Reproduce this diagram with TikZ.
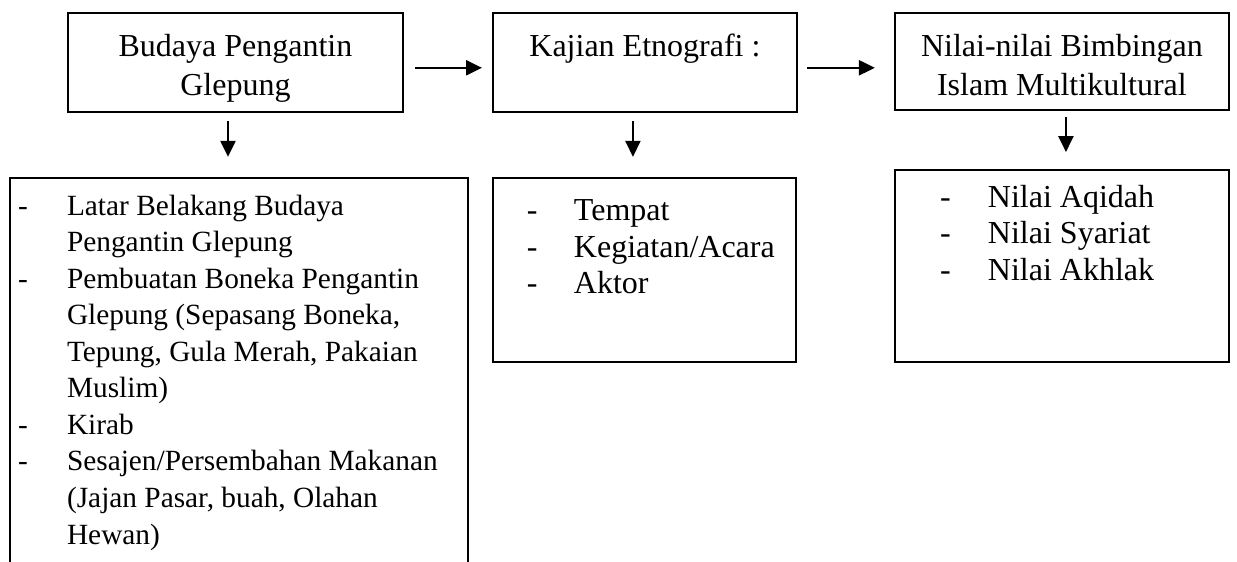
\documentclass[tikz,border=0pt]{standalone}
\usepackage{fontspec}
\setmainfont{Liberation Serif}
\usepackage{tikz}
\usetikzlibrary{positioning, arrows.meta}

\newcommand{\isikotak}[4][5.4pt]{\parbox[c][#3][t]{#2}{\vspace*{#1}#4}}

\begin{document}
\begin{tikzpicture}
        [
        x=0.375pt, y=-0.375pt,
        kotak/.style = {draw, line width=0.8pt, inner sep=0pt, outer sep=0pt, fill=white,
                        font=\fontsize{12}{13.7}\selectfont},
        panah/.style = {-{Triangle[length=6pt, width=5.6pt]}, line width=0.9pt}
        ]
    \useasboundingbox (0,0) rectangle (1237,561);
    \clip (0,0) rectangle (1237,561);

    \node[kotak, anchor=north west] (budaya) at (68,13)
        {\isikotak[6.9pt]{125.6pt}{37.1pt}{\centering\begin{tabular}{@{}c@{}}Budaya Pengantin\\[0.6pt]Glepung\end{tabular}\par}};
    \node[kotak, right=33.75pt of budaya.north east, anchor=north west] (kajian)
        {\isikotak[6.6pt]{114pt}{37.1pt}{\centering\begin{tabular}{@{}c@{}}Kajian Etnografi :\end{tabular}\par}};
    \node[kotak, right=36.75pt of kajian.north east, anchor=north west] (nilai)
        {\isikotak[6.9pt]{125.25pt}{36.4pt}{\centering\begin{tabular}{@{}c@{}}Nilai-nilai Bimbingan\\[0.6pt]Islam Multikultural\end{tabular}\par}};

    \node[kotak, font=\fontsize{11}{13.7}\selectfont, below=24.75pt of budaya.south west, anchor=north west, xshift=-21.75pt] (unsurbudaya)
        {\isikotak[4.4pt]{171.75pt}{150pt}{\begin{tabular}{@{\hspace{3pt}}p{18.4pt}@{}l@{}}
            - & Latar Belakang Budaya\\
              & Pengantin Glepung\\
            - & Pembuatan Boneka Pengantin\\
              & Glepung (Sepasang Boneka,\\
              & Tepung, Gula Merah, Pakaian\\
              & Muslim)\\
            - & Kirab\\
            - & Sesajen/Persembahan Makanan\\
              & (Jajan Pasar, buah, Olahan\\
              & Hewan)
        \end{tabular}}};
    \node[kotak, below=24.75pt of kajian.south west, anchor=north west] (unsurkajian)
        {\isikotak[6.4pt]{113.6pt}{69pt}{\begin{tabular}{@{\hspace{12.75pt}}p{17.65pt}@{}l@{}}
            - & Tempat\\
            - & Kegiatan/Acara\\
            - & Aktor
        \end{tabular}}};
    \node[kotak, below=22.5pt of nilai.south west, anchor=north west] (unsurnilai)
        {\isikotak[4.4pt]{125.25pt}{72pt}{\begin{tabular}{@{\hspace{16.9pt}}p{18pt}@{}l@{}}
            - & Nilai Aqidah\\
            - & Nilai Syariat\\
            - & Nilai Akhlak
        \end{tabular}}};

    % alur
    \draw[panah, shorten <=4.5pt, shorten >=4.1pt] ([yshift=-2pt]budaya.east) -- ([yshift=-2pt]budaya.east -| kajian.west);
    \draw[panah, shorten <=3.75pt, shorten >=7.5pt] ([yshift=-2pt]kajian.east) -- ([yshift=-2pt]kajian.east -| nilai.west);
    \draw[panah, shorten <=3.4pt, shorten >=7.9pt] ([xshift=-2.8pt]budaya.south) -- ([xshift=-2.8pt]budaya.south |- unsurbudaya.north);
    \draw[panah, shorten <=3.4pt, shorten >=7.9pt] ([xshift=-4.5pt]kajian.south) -- ([xshift=-4.5pt]kajian.south |- unsurkajian.north);
    \draw[panah, shorten <=2.6pt, shorten >=6.75pt] ([xshift=1.5pt]nilai.south) -- ([xshift=1.5pt]nilai.south |- unsurnilai.north);
\end{tikzpicture}
\end{document}
